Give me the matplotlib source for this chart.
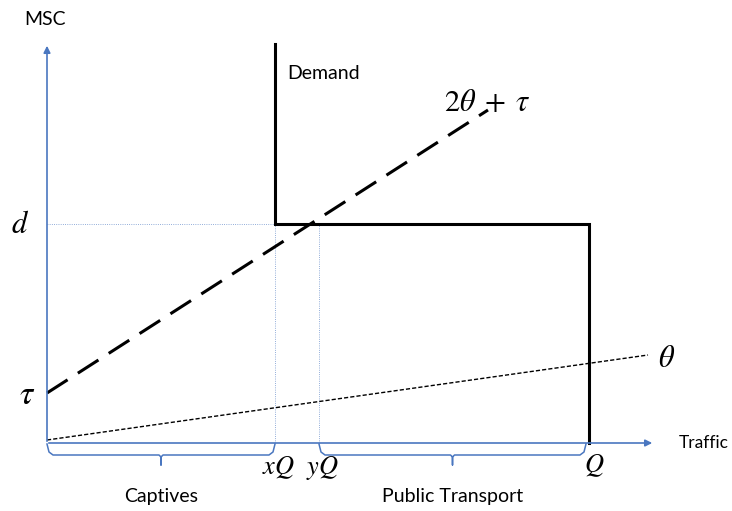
import matplotlib.pyplot as plt
import numpy as np

plt.rcParams['mathtext.fontset'] = 'stix'
plt.rcParams['font.family'] = 'Lato'

# values in chart units (origin at the axes' corner)
Q = 542
xQ = 228
yQ = 272
d = 219
tau = 50
axis_x_end = 608
axis_y_end = 400

# cost lines: (x start, y start, x end, y end)
line_2theta = [0, tau, 441, 333]
line_theta = [0, 3, 601, 88]

# demand curve corner points
demand_x = [xQ, xQ, Q, Q]
demand_y = [399, d, d, 0]

# braces under the traffic axis
braces = [(0, xQ, 'Captives'), (yQ, Q - 3, 'Public Transport')]

blue = '#4a77c0'

fig = plt.figure(figsize=(7.32, 5.11), dpi=100)
ax = fig.add_axes([0, 0, 1, 1])
ax.set_xlim(-47, 685)
ax.set_ylim(-68, 443)
ax.axis('off')

# axes with arrows
ax.annotate('', xy=(axis_x_end, 0), xytext=(-1, 0),
            arrowprops=dict(arrowstyle='-|>', color=blue, lw=1.2, mutation_scale=10))
ax.annotate('', xy=(0, axis_y_end), xytext=(0, -1),
            arrowprops=dict(arrowstyle='-|>', color=blue, lw=1.2, mutation_scale=10))

# thin guide lines
ax.plot([0, xQ], [d, d], color=blue, lw=0.6, ls=':', alpha=0.8)
ax.plot([xQ, xQ], [0, d], color=blue, lw=0.6, ls=':', alpha=0.8)
ax.plot([yQ, yQ], [0, d], color=blue, lw=0.6, ls=':', alpha=0.8)

# demand
ax.plot(demand_x, demand_y, color='black', lw=2.2, solid_joinstyle='miter')

# 2theta + tau dashed line
ax.plot(line_2theta[::2], line_2theta[1::2], color='black', lw=2.2, dashes=(8, 4))
# theta dotted line
ax.plot(line_theta[::2], line_theta[1::2], color='black', lw=1.0, dashes=(3, 1.5))

# braces
for x0, x1, lab in braces:
    mid = (x0 + x1) / 2
    bx = [x0, x0 + 2, x0 + 6, mid - 2, mid, mid, mid, mid + 2, x1 - 6, x1 - 2, x1]
    by = [-1, -9, -12, -12, -14, -22, -14, -12, -12, -9, -1]
    ax.plot(bx, by, color=blue, lw=1.1)
    ax.text(mid, -53, lab, ha='center', va='center', fontsize=14)

# labels
ax.text(-2, 424, 'MSC', ha='center', va='center', fontsize=14)
ax.text(axis_x_end + 24, 0, 'Traffic', ha='left', va='center', fontsize=12.5)
ax.text(xQ + 12, 370, 'Demand', ha='left', va='center', fontsize=14)
ax.text(line_2theta[2] - 1, line_2theta[3] + 8, r'$2\theta\;+\;\tau$', ha='center',
        va='center', fontsize=22)
ax.text(620, 85, r'$\theta$', ha='center', va='center', fontsize=22)
ax.text(-27, d, r'$d$', ha='center', va='center', fontsize=22)
ax.text(-20, tau - 2, r'$\tau$', ha='center', va='center', fontsize=24)
ax.text(xQ + 3, -25, r'$xQ$', ha='center', va='center', fontsize=19)
ax.text(yQ + 3, -25, r'$yQ$', ha='center', va='center', fontsize=19)
ax.text(Q + 5, -23, r'$Q$', ha='center', va='center', fontsize=19)

fig.savefig('out.png', dpi=100, facecolor='white')
